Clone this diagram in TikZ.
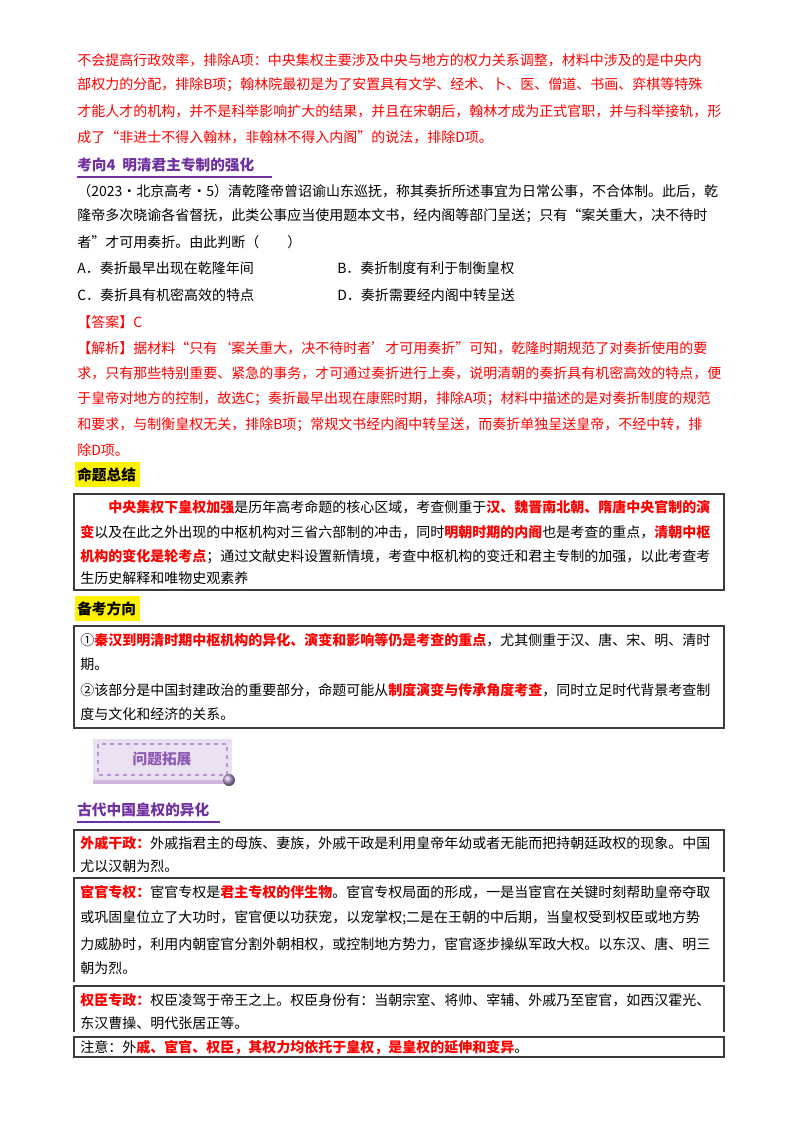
\documentclass[tikz,border=0pt]{standalone}
\usepackage{fontspec}
\setmainfont{Noto Sans CJK SC}
\definecolor{pur}{RGB}{112,48,160}
\definecolor{rd}{RGB}{255,0,0}
\definecolor{bx}{RGB}{60,60,60}
\newcommand\RB[1]{{\color{rd}\bfseries #1}}
\begin{document}
\begin{tikzpicture}[x=0.75pt,y=-0.75pt,
  ln/.style={anchor=west,inner sep=0pt,font=\fontsize{10.5}{12}\selectfont},
  rl/.style={ln,text=rd},
  hd/.style={anchor=west,inner sep=0pt,font=\fontsize{11}{13}\selectfont\bfseries,text=pur},
  bxl/.style={draw=bx,line width=1.1pt}]
\useasboundingbox (0,0) rectangle (800,1134);
\fill[white] (0,0) rectangle (800,1134);
% top red paragraph
\node[rl] (l1) at (77,60) {不会提高行政效率，排除A项：中央集权主要涉及中央与地方的权力关系调整，材料中涉及的是中央内};
\node[rl] (l2) at (77,85) {部权力的分配，排除B项；翰林院最初是为了安置具有文学、经术、卜、医、僧道、书画、弈棋等特殊};
\node[rl] (l3) at (77,111) {才能人才的机构，并不是科举影响扩大的结果，并且在宋朝后，翰林才成为正式官职，并与科举接轨，形};
\node[rl] (l4) at (77,137) {成了“非进士不得入翰林，非翰林不得入内阁”的说法，排除D项。};
\node[hd] (h1) at (77,165) {考向4\ \ 明清君主专制的强化};
\draw[pur,line width=1pt] (77,177) -- (272,177);
\node[ln] (q1) at (77,191) {（2023·北京高考·5）清乾隆帝曾诏谕山东巡抚，称其奏折所述事宜为日常公事，不合体制。此后，乾};
\node[ln] (q2) at (77,216) {隆帝多次晓谕各省督抚，此类公事应当使用题本文书，经内阁等部门呈送；只有“案关重大，决不待时};
\node[ln] (q3) at (77,242) {者”才可用奏折。由此判断（\quad\quad）};
\node[ln] (oa) at (77,268) {A．奏折最早出现在乾隆年间};
\node[ln] (ob) at (337,268) {B．奏折制度有利于制衡皇权};
\node[ln] (oc) at (77,295) {C．奏折具有机密高效的特点};
\node[ln] (od) at (337,295) {D．奏折需要经内阁中转呈送};
\node[rl] (an) at (77,322) {【答案】C};
\node[rl] (j1) at (77,348) {【解析】据材料“只有‘案关重大，决不待时者’才可用奏折”可知，乾隆时期规范了对奏折使用的要};
\node[rl] (j2) at (77,373) {求，只有那些特别重要、紧急的事务，才可通过奏折进行上奏，说明清朝的奏折具有机密高效的特点，便};
\node[rl] (j3) at (77,399) {于皇帝对地方的控制，故选C；奏折最早出现在康熙时期，排除A项；材料中描述的是对奏折制度的规范};
\node[rl] (j4) at (77,425) {和要求，与制衡皇权无关，排除B项；常规文书经内阁中转呈送，而奏折单独呈送皇帝，不经中转，排};
\node[rl] (j5) at (77,450) {除D项。};
% 命题总结
\fill[yellow] (75,462) rectangle (140,487);
\node[hd,text=black] (h2) at (77,474.5) {命题总结};
\draw[bxl] (74,494) rectangle (724,590);
\node[ln] (s1) at (80,507) {\hspace{2em}\RB{中央集权下皇权加强}是历年高考命题的核心区域，考查侧重于\RB{汉、魏晋南北朝、隋唐中央官制的演}};
\node[ln] (s2) at (80,532) {\RB{变}以及在此之外出现的中枢机构对三省六部制的冲击，同时\RB{明朝时期的内阁}也是考查的重点，\RB{清朝中枢}};
\node[ln] (s3) at (80,557) {\RB{机构的变化是轮考点}；通过文献史料设置新情境，考查中枢机构的变迁和君主专制的加强，以此考查考};
\node[ln] (s4) at (80,578) {生历史解释和唯物史观素养};
% 备考方向
\fill[yellow] (75,596) rectangle (140,621);
\node[hd,text=black] (h3) at (77,608.5) {备考方向};
\draw[bxl] (74,626) rectangle (724,728);
\node[ln] (b1) at (80,640) {①\RB{秦汉到明清时期中枢机构的异化、演变和影响等仍是考查的重点}，尤其侧重于汉、唐、宋、明、清时};
\node[ln] (b2) at (80,664) {期。};
\node[ln] (b3) at (80,690) {②该部分是中国封建政治的重要部分，命题可能从\RB{制度演变与传承角度考查}，同时立足时代背景考查制};
\node[ln] (b4) at (80,714) {度与文化和经济的关系。};
% badge
\fill[pur!15] (93,739) rectangle (232,780);
\draw[pur!50,dashed,line width=0.8pt] (98,744) rectangle (227,775);
\fill[pur!35] (93,780) rectangle (232,784);
\shade[ball color=pur!45] (229,780) circle (6);
\node[font=\fontsize{11}{13}\selectfont\bfseries,text=pur!80] (bg) at (162,759) {问题拓展};
% heading
\node[hd] (h4) at (77,810) {古代中国皇权的异化};
\draw[pur,line width=1pt] (77,822) -- (220,822);
% table
\draw[bxl] (74,872) -- (74,830) -- (724,830) -- (724,872);
\node[ln] (t1) at (80,843) {\RB{外戚干政：}外戚指君主的母族、妻族，外戚干政是利用皇帝年幼或者无能而把持朝廷政权的现象。中国};
\node[ln] (t2) at (80,866) {尤以汉朝为烈。};
\draw[bxl] (74,982) -- (74,878) -- (724,878) -- (724,982);
\node[ln] (t3) at (80,892) {\RB{宦官专权：}宦官专权是\RB{君主专权的伴生物}。宦官专权局面的形成，一是当宦官在关键时刻帮助皇帝夺取};
\node[ln] (t4) at (80,918) {或巩固皇位立了大功时，宦官便以功获宠，以宠掌权;二是在王朝的中后期，当皇权受到权臣或地方势};
\node[ln] (t5) at (80,944) {力威胁时，利用内朝宦官分割外朝相权，或控制地方势力，宦官逐步操纵军政大权。以东汉、唐、明三};
\node[ln] (t6) at (80,968) {朝为烈。};
\draw[bxl] (74,1032) -- (74,986) -- (724,986) -- (724,1032);
\node[ln] (t7) at (80,1000) {\RB{权臣专政：}权臣凌驾于帝王之上。权臣身份有：当朝宗室、将帅、宰辅、外戚乃至宦官，如西汉霍光、};
\node[ln] (t8) at (80,1023) {东汉曹操、明代张居正等。};
\draw[bxl] (74,1037) rectangle (724,1057);
\node[ln] (t9) at (80,1047) {注意：外\RB{戚、宦官、权臣，其权力均依托于皇权，是皇权的延伸和变异}。};
\end{tikzpicture}
\end{document}
